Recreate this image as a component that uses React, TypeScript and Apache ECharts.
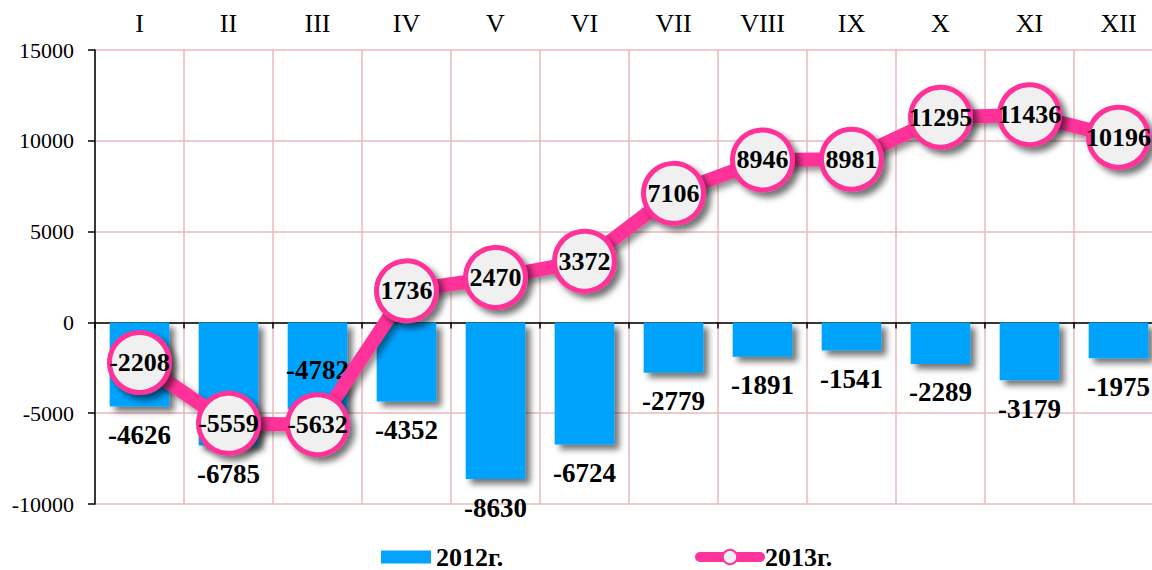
import React, { useEffect, useRef } from "react";
import * as echarts from "echarts";

const months = ["I", "II", "III", "IV", "V", "VI", "VII", "VIII", "IX", "X", "XI", "XII"];
const values2012 = [-4626, -6785, -4782, -4352, -8630, -6724, -2779, -1891, -1541, -2289, -3179, -1975];
const values2013 = [-2208, -5559, -5632, 1736, 2470, 3372, 7106, 8946, 8981, 11295, 11436, 10196];
const name2012 = "2012г.";
const name2013 = "2013г.";

const FONT = "'Liberation Serif', 'Times New Roman', serif";
const BLUE = "#05a3fc";
const PINK = "#ff3399";
const GRID = "#e8b8bc";

export default function App() {
  const ref = useRef<HTMLDivElement>(null);
  useEffect(() => {
    if (!ref.current) return;
    const chart = echarts.init(ref.current, undefined, { renderer: "svg" });
    const barData = values2012.map((v, i) =>
      i === 2
        ? { value: v, label: { position: "insideBottom", distance: 26 } }
        : v
    );
    chart.setOption({
      animation: false,
      backgroundColor: "#ffffff",
      grid: { left: 95, right: 0, top: 50, bottom: 66, containLabel: false },
      legend: [
        {
          data: [name2012],
          left: 376,
          top: 539,
          icon: "rect",
          itemWidth: 50,
          itemHeight: 13,
          textStyle: { fontFamily: FONT, fontSize: 26, fontWeight: "bold", color: "#000" },
        },
        {
          data: [name2013],
          left: 690,
          top: 539,
          itemWidth: 60,
          itemHeight: 18,
          lineStyle: { width: 10, cap: "round" },
          textStyle: { fontFamily: FONT, fontSize: 26, fontWeight: "bold", color: "#000" },
        },
      ],
      xAxis: [
        {
          type: "category",
          data: months,
          position: "top",
          axisLine: { show: false, onZero: false },
          axisTick: { show: false },
          axisLabel: { fontFamily: FONT, fontSize: 26, color: "#000", margin: 14 },
          splitLine: { show: true, lineStyle: { color: GRID, width: 1.5 } },
        },
        {
          type: "category",
          data: months,
          position: "bottom",
          axisLine: { show: true, onZero: true, lineStyle: { color: "#000", width: 1.5 } },
          axisTick: { show: true, length: 6, lineStyle: { color: "#000", width: 1.5 } },
          axisLabel: { show: false },
          splitLine: { show: false },
        },
      ],
      yAxis: {
        type: "value",
        min: -10000,
        max: 15000,
        interval: 5000,
        axisLine: { show: true, lineStyle: { color: "#000", width: 1.5 } },
        axisTick: { show: true, length: 7, lineStyle: { color: "#000", width: 1.5 } },
        axisLabel: {
          fontFamily: FONT,
          fontSize: 22,
          color: "#000",
          margin: 21,
          formatter: (v: number) => String(v),
        },
        splitLine: { show: true, lineStyle: { color: GRID, width: 1.5 } },
      },
      series: [
        {
          name: name2012,
          type: "bar",
          xAxisIndex: 0,
          data: barData,
          barWidth: "67%",
          itemStyle: {
            color: BLUE,
            shadowColor: "rgba(0,0,0,0.55)",
            shadowBlur: 6,
            shadowOffsetX: 5,
            shadowOffsetY: 5,
          },
          label: {
            show: true,
            position: "bottom",
            distance: 15,
            fontFamily: FONT,
            fontSize: 27,
            fontWeight: "bold",
            color: "#000",
          },
          z: 2,
        },
        {
          name: name2013,
          type: "line",
          xAxisIndex: 0,
          data: values2013,
          symbol: "circle",
          symbolSize: 60,
          lineStyle: {
            color: PINK,
            width: 14,
            shadowColor: "rgba(0,0,0,0.45)",
            shadowBlur: 6,
            shadowOffsetX: 4,
            shadowOffsetY: 4,
          },
          itemStyle: {
            color: "#f0f0f0",
            borderColor: PINK,
            borderWidth: 5,
            shadowColor: "rgba(0,0,0,0.55)",
            shadowBlur: 6,
            shadowOffsetX: 5,
            shadowOffsetY: 5,
          },
          label: {
            show: true,
            position: "inside",
            fontFamily: FONT,
            fontSize: 26,
            fontWeight: "bold",
            color: "#000",
          },
          z: 5,
        },
      ],
    });
    return () => chart.dispose();
  }, []);
  return (
    <div
      ref={ref}
      style={{ position: "fixed", left: 0, top: 0, width: 1163, height: 570, background: "#fff" }}
    />
  );
}
